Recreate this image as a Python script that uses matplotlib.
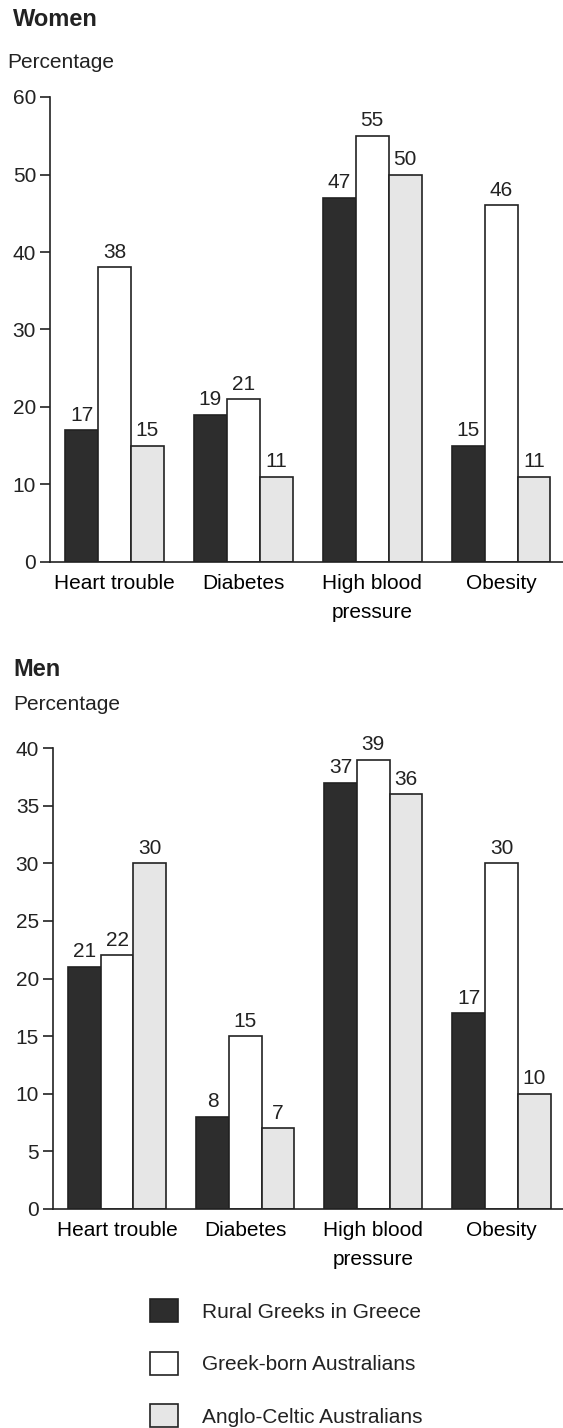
import matplotlib.pyplot as plt
import numpy as np

plt.rcParams['font.family'] = ['Liberation Sans', 'DejaVu Sans']
plt.rcParams['text.color'] = '#222222'

categories = ["Heart trouble", "Diabetes", "High blood\npressure", "Obesity"]
groups = ["Rural Greeks in Greece", "Greek-born Australians", "Anglo-Celtic Australians"]
women = [[17, 19, 47, 15],
         [38, 21, 55, 46],
         [15, 11, 50, 11]]
men = [[21, 8, 37, 17],
       [22, 15, 39, 30],
       [30, 7, 36, 10]]
colors = ["#2d2d2d", "#ffffff", "#e6e6e6"]

W, H = 563, 1428
fig = plt.figure(figsize=(W / 100, H / 100), dpi=100)


def px(x, y):
    return x / W, 1 - y / H


def panel(left, top, bottom, values, ymax, step):
    ax = fig.add_axes([left / W, 1 - bottom / H, (W - left) / W, (bottom - top) / H])
    x = np.arange(len(categories))
    width = 0.255
    bars = []
    for i, vals in enumerate(values):
        b = ax.bar(x + (i - 1) * width, vals, width, color=colors[i],
                   edgecolor="#222222", linewidth=1.2, label=groups[i])
        bars.append(b)
        for rect, v in zip(b, vals):
            ax.annotate(str(v), xy=(rect.get_x() + rect.get_width() / 2, v),
                        xytext=(0, 4), textcoords="offset points",
                        ha="center", va="bottom", fontsize=15)
    ax.set_xlim(-0.5, 3.48)
    ax.set_ylim(0, ymax)
    ax.set_yticks(np.arange(0, ymax + 1, step))
    ax.set_xticks(x)
    ax.set_xticklabels(categories, fontsize=15, linespacing=1.65)
    ax.tick_params(axis="x", length=0, pad=9)
    ax.tick_params(axis="y", length=7, width=1.2, pad=3, labelsize=15, colors="#222222")
    for s in ["top", "right"]:
        ax.spines[s].set_visible(False)
    for s in ["left", "bottom"]:
        ax.spines[s].set_linewidth(1.2)
        ax.spines[s].set_color("#222222")
    return bars


panel(50, 97, 562, women, 60, 10)
bars = panel(53, 748, 1209, men, 40, 5)

fig.text(*px(13, 19), "Women", fontsize=17, fontweight="bold", va="center")
fig.text(*px(7, 62), "Percentage", fontsize=15, va="center")
fig.text(*px(13, 670), "Men", fontsize=17, fontweight="bold", va="center")
fig.text(*px(13, 705), "Percentage", fontsize=15, va="center")

fig.legend(bars, groups, loc="upper left", bbox_to_anchor=px(150, 1299),
           frameon=False, fontsize=15, handlelength=1.35, handleheight=1.35,
           handletextpad=1.15, labelspacing=1.4, borderpad=0, borderaxespad=0)

fig.savefig("out.png", dpi=100)
